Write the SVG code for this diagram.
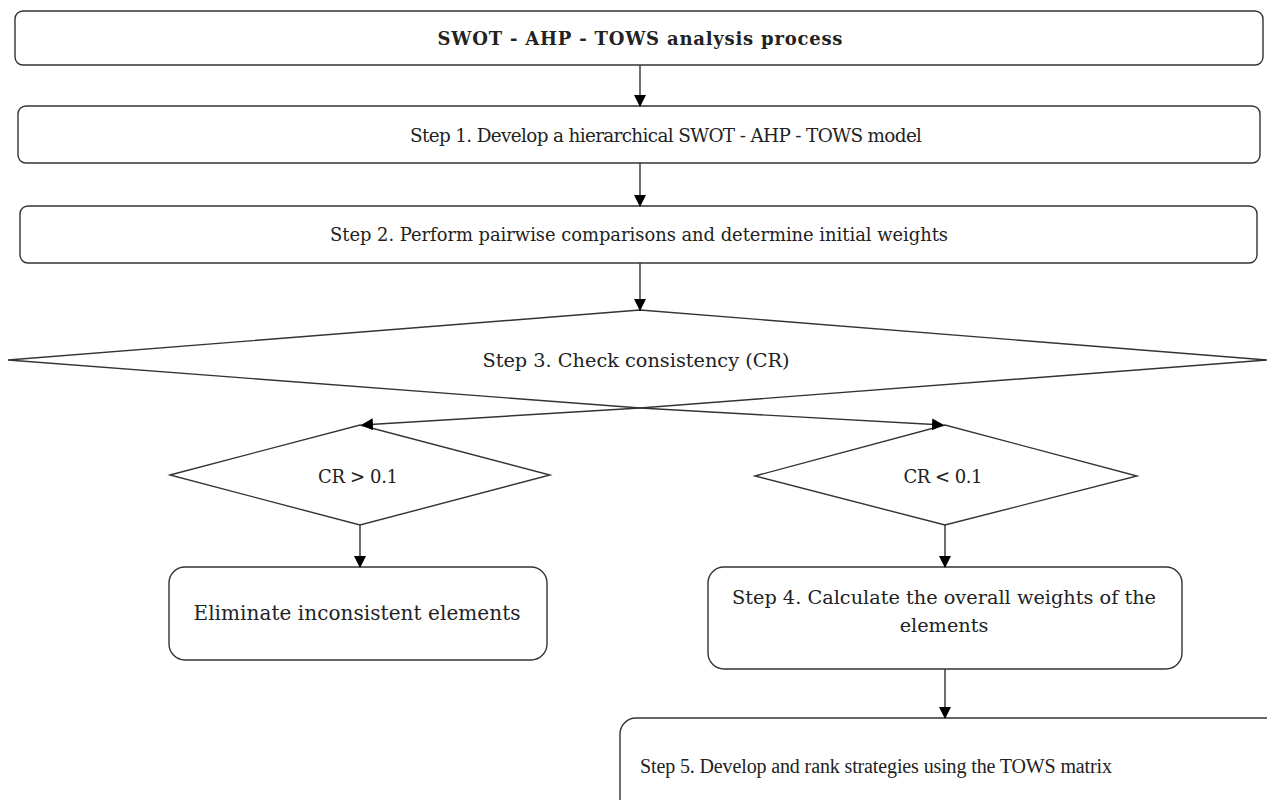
<svg xmlns="http://www.w3.org/2000/svg" width="1267" height="800" viewBox="0 0 1267 800">
<style>
.box{fill:#fff;stroke:#333;stroke-width:1.4}
.dia{fill:none;stroke:#333;stroke-width:1.4}
.t{font-family:"DejaVu Serif","Liberation Serif",serif;font-size:18px;fill:#222;text-anchor:middle;dominant-baseline:central}
.cd{font-family:"Liberation Serif","DejaVu Serif",serif}
.b{font-weight:bold}
.c{fill:none;stroke:#333;stroke-width:1.4;marker-end:url(#ah)}
</style>
<defs>
<marker id="ah" markerWidth="12" markerHeight="12" refX="11" refY="6" orient="auto" markerUnits="userSpaceOnUse">
<path d="M0,0 L12,6 L0,12 Z" fill="#000"/>
</marker>
</defs>
<rect width="1267" height="800" fill="#fff"/>
<g id="n0"><rect class="box" x="15" y="11" width="1248" height="54" rx="8"/><text class="t b" x="640" y="38" textLength="405">SWOT - AHP - TOWS analysis process</text></g>
<g id="n1"><rect class="box" x="18" y="106" width="1242" height="57" rx="8"/><text class="t" x="666" y="135" style="font-size:18.4px" textLength="512">Step 1. Develop a hierarchical SWOT - AHP - TOWS model</text></g>
<g id="n2"><rect class="box" x="20" y="206" width="1237" height="57" rx="8"/><text class="t" x="639" y="234" style="font-size:17.9px" textLength="618">Step 2. Perform pairwise comparisons and determine initial weights</text></g>
<g id="n3"><polygon class="dia" points="8,360 640,310 1267,360 640,408"/><text class="t" x="636" y="360" style="font-size:19.3px" textLength="307">Step 3. Check consistency (CR)</text></g>
<g id="n4"><polygon class="dia" points="170,475 360,425 550,475 360,525"/><text class="t" x="358" y="476" textLength="80">CR &gt; 0.1</text></g>
<g id="n5"><polygon class="dia" points="755,476 945,425 1137,476 945,525"/><text class="t" x="943" y="476" textLength="79">CR &lt; 0.1</text></g>
<g id="n6"><rect class="box" x="169" y="567" width="378" height="93" rx="16"/><text class="t" x="357" y="613" style="font-size:20px" textLength="327">Eliminate inconsistent elements</text></g>
<g id="n7"><rect class="box" x="708" y="567" width="474" height="102" rx="16"/><text class="t" x="944" y="597" style="font-size:19.3px" textLength="424">Step 4. Calculate the overall weights of the</text><text class="t" x="944" y="625" style="font-size:19.3px">elements</text></g>
<g id="n8"><rect class="box" x="620" y="718" width="680" height="110" rx="16"/><text class="t cd" x="876" y="766" style="font-size:20px" textLength="472">Step 5. Develop and rank strategies using the TOWS matrix</text></g>
<g id="connectors">
<path class="c" d="M640,65 L640,106"/>
<path class="c" d="M640,163 L640,206"/>
<path class="c" d="M640,263 L640,310"/>
<path class="c" d="M640,408 L362,425"/>
<path class="c" d="M640,408 L943,425"/>
<path class="c" d="M360,525 L360,567"/>
<path class="c" d="M945,525 L945,567"/>
<path class="c" d="M945,669 L945,718"/>
</g>
</svg>
